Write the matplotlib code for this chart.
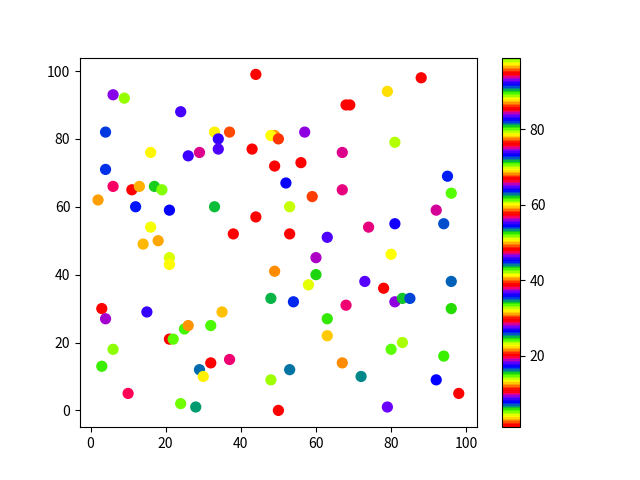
import matplotlib
matplotlib.use("Agg")
import matplotlib.pyplot as plt

plt.rcParams['font.family'] = ['Noto Sans CJK SC', 'DejaVu Sans']

# scatter positions and colour values
x = [44, 88, 6, 9, 79, 24, 68, 69, 4, 33,
     37, 34, 34, 43, 49, 48, 50, 49, 16, 26,
     29, 4, 6, 11, 13, 17, 19, 2, 12, 21,
     33, 44, 16, 38, 14, 18, 21, 21, 49, 3,
     4, 15, 35, 48, 21, 22, 25, 26, 32, 6,
     3, 29, 30, 32, 37, 10, 24, 28, 48, 50,
     57, 67, 81, 56, 52, 67, 59, 53, 53, 63,
     74, 81, 95, 96, 92, 94, 60, 80, 60, 58,
     73, 78, 54, 68, 81, 83, 85, 96, 96, 63,
     63, 83, 80, 94, 67, 53, 72, 92, 98, 79]
y = [99, 98, 93, 92, 94, 88, 90, 90, 82, 82,
     82, 80, 77, 77, 81, 81, 80, 72, 76, 75,
     76, 71, 66, 65, 66, 66, 65, 62, 60, 59,
     60, 57, 54, 52, 49, 50, 45, 43, 41, 30,
     27, 29, 29, 33, 21, 21, 24, 25, 25, 18,
     13, 12, 10, 14, 15, 5, 2, 1, 9, 0,
     82, 76, 79, 73, 67, 65, 63, 60, 52, 51,
     54, 55, 69, 64, 59, 55, 45, 46, 40, 37,
     38, 36, 32, 31, 32, 33, 33, 38, 30, 27,
     22, 20, 18, 16, 14, 12, 10, 9, 5, 1]
c = [1.0, 10.6, 18.3, 14.1, 22.1, 27.3, 20.0, 29.4, 35.2, 31.9,
     30.1, 36.6, 45.9, 38.7, 40.4, 41.3, 39.5, 48.1, 50.7, 55.0,
     47.2, 54.0, 56.6, 57.5, 49.8, 61.9, 51.6, 59.1, 63.4, 73.2,
     52.8, 66.9, 60.1, 76.3, 68.5, 77.9, 69.9, 69.5, 68.1, 85.6,
     74.6, 83.0, 87.3, 71.8, 95.0, 80.2, 89.6, 86.8, 70.9, 79.8,
     61.7, 81.7, 78.4, 94.5, 84.7, 75.6, 42.7, 81.2, 88.7, 85.6,
     84.0, 93.8, 98.1, 95.0, 92.0, 65.7, 58.2, 60.5, 76.3, 92.7,
     65.9, 82.6, 91.5, 99.0, 75.1, 44.6, 93.4, 88.2, 43.2, 97.6,
     64.8, 48.1, 25.9, 37.8, 37.1, 34.0, 16.5, 7.1, 24.7, 33.8,
     12.7, 23.3, 33.4, 15.1, 21.6, 16.0, 25.4, 26.3, 29.4, 9.0]

fig = plt.figure(figsize=(6.4, 4.8), dpi=100)
sc = plt.scatter(x, y, c=c, cmap='prism', s=50)
plt.colorbar(sc)
plt.savefig("out.png")
